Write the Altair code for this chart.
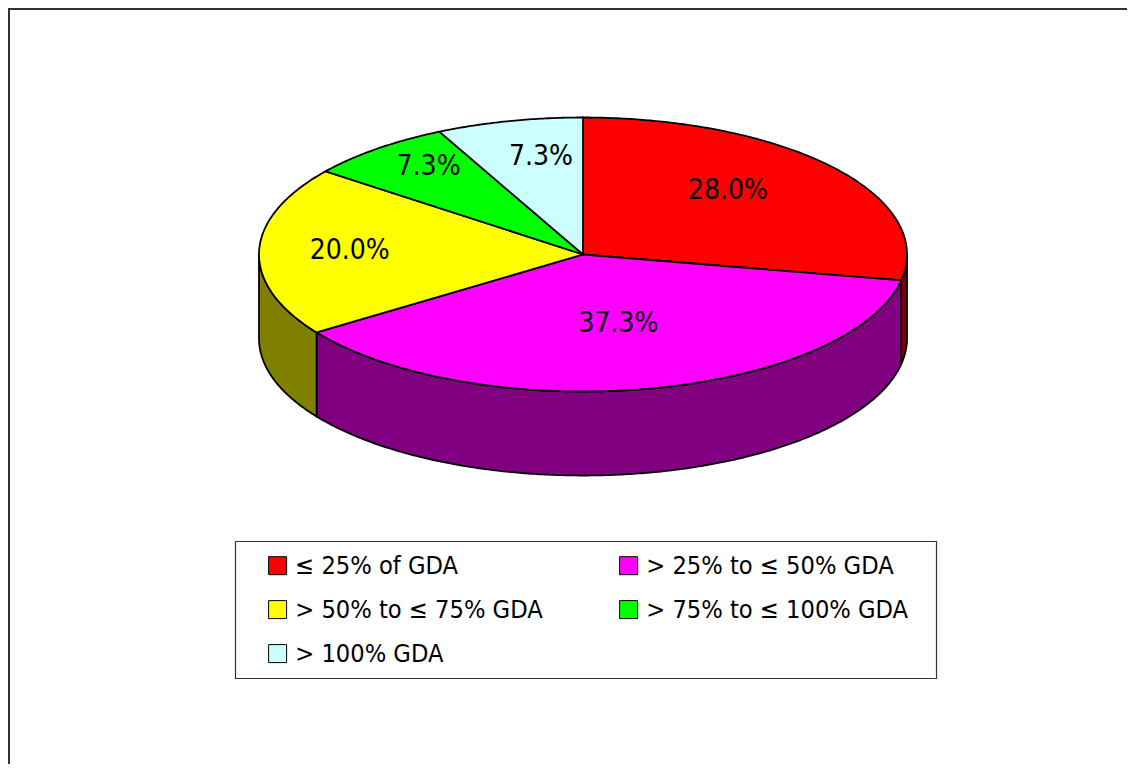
import math
import altair as alt

categories = ["≤ 25% of GDA", "> 25% to ≤ 50% GDA", "> 50% to ≤ 75% GDA", "> 75% to ≤ 100% GDA", "> 100% GDA"]
shares = [28.0, 37.3, 20.0, 7.3, 7.3]
top_colors = ["#ff0000", "#ff00ff", "#ffff00", "#00ff00", "#ccffff"]
side_colors = ["#800000", "#800080", "#808000", "#008000", "#668080"]
labels = ["28.0%", "37.3%", "20.0%", "7.3%", "7.3%"]

# layout of the tilted pie, in chart pixels
CX, CY, RX, RY, DEPTH = 575.0, 246.5, 324.0, 137.0, 84.0
label_radial = [(0.447 / 0.77, 0.745), (0.53, 0.507), (0.72, 1.7), (0.75, 0.84), (0.57, 0.74)]
FONT = "DejaVu Sans Condensed"
W, H = 1119, 756


def pt(deg, dy=0.0, f=1.0):
    t = math.radians(deg)
    return [CX + f * RX * math.sin(t), CY - f * RY * math.cos(t) + dy]


def arc(a, b, dy=0.0):
    n = max(2, int(abs(b - a) * 2))
    return [pt(a + (b - a) * i / n, dy) for i in range(n + 1)]


total = sum(shares)
edges = [0.0]
for s in shares:
    edges.append(edges[-1] + 360.0 * s / total)

tops, sides, texts = [], [], []
for i, cat in enumerate(categories):
    a, b = edges[i], edges[i + 1]
    ring = [[CX, CY]] + arc(a, b) + [[CX, CY]]
    tops.append({"type": "Feature", "cat": cat,
                 "geometry": {"type": "Polygon", "coordinates": [ring]}})
    lo, hi = max(a, 90.0), min(b, 270.0)
    if lo < hi:
        wall = arc(lo, hi) + arc(hi, lo, DEPTH)
        wall.append(wall[0])
        sides.append({"type": "Feature", "color": side_colors[i],
                      "geometry": {"type": "Polygon", "coordinates": [wall]}})
    mid = math.radians((a + b) / 2)
    fx, fy = label_radial[i]
    texts.append({"label": labels[i],
                  "lon": CX + fx * RX * math.sin(mid),
                  "lat": CY - fy * RY * math.cos(mid) + 1.5})

proj = dict(type="identity", scale=1, translate=[0, 0])

side_layer = (
    alt.Chart(alt.Data(values=sides))
    .mark_geoshape(stroke="black", strokeWidth=1.8)
    .encode(fill=alt.Fill("color:N", scale=None, legend=None))
    .project(**proj)
)

top_layer = (
    alt.Chart(alt.Data(values=tops))
    .mark_geoshape(stroke="black", strokeWidth=1.8)
    .encode(
        fill=alt.Fill(
            "cat:N",
            scale=alt.Scale(domain=categories, range=top_colors),
            legend=alt.Legend(
                orient="none", legendX=257, legendY=545, columns=2, title=None,
                direction="horizontal", zindex=1,
                symbolType="square", symbolSize=324, symbolStrokeColor="black",
                symbolStrokeWidth=1, symbolOpacity=1, labelFont=FONT, labelFontSize=25.2,
                labelColor="black", labelLimit=400, labelOffset=5,
                padding=0, rowPadding=18, columnPadding=73,
            ),
        )
    )
    .project(**proj)
)

text_layer = (
    alt.Chart(alt.Data(values=texts))
    .mark_text(font=FONT, fontSize=28, color="black", align="center", baseline="middle")
    .encode(longitude="lon:Q", latitude="lat:Q", text="label:N")
    .project(**proj)
)

one = alt.Data(values=[{"k": 0}])
frame_left = alt.Chart(one).mark_rule(color="#333333", strokeWidth=2).encode(
    x=alt.value(1), y=alt.value(0), y2=alt.value(H))
frame_top = alt.Chart(one).mark_rule(color="#333333", strokeWidth=2).encode(
    y=alt.value(1), x=alt.value(0), x2=alt.value(W))
legend_box = alt.Chart(one).mark_rect(fill="white", stroke="#333333", strokeWidth=1.2).encode(
    x=alt.value(227.5), x2=alt.value(928.5), y=alt.value(533.5), y2=alt.value(670.5))

chart = (
    alt.layer(frame_left, frame_top, legend_box, side_layer, top_layer, text_layer)
    .resolve_scale(fill="independent")
    .properties(width=W, height=H, padding=0, background="white",
                autosize=alt.AutoSizeParams(type="none"))
    .configure_view(stroke=None)
)

chart.save("out.html", embed_options={"renderer": "svg", "actions": False})
